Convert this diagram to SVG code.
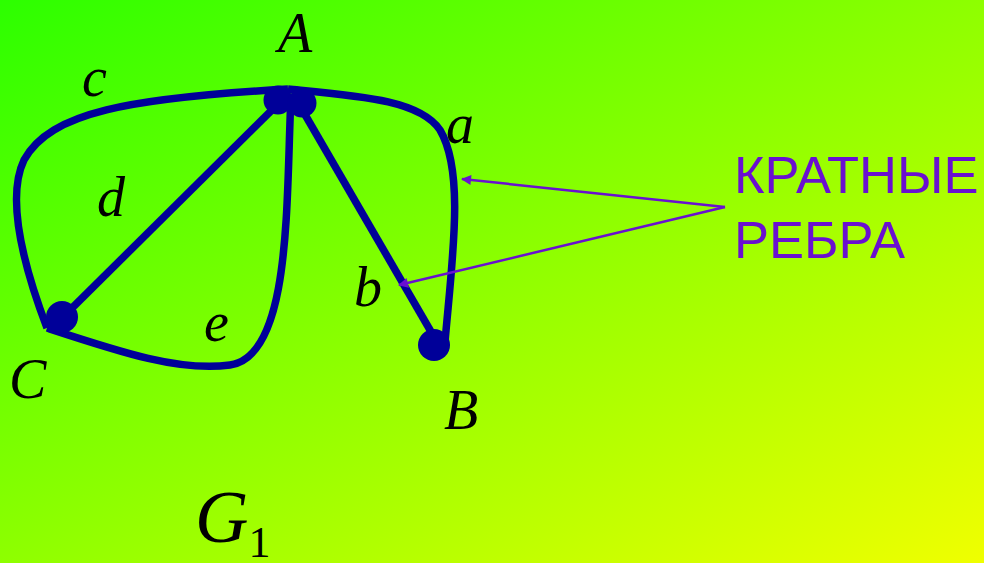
<svg xmlns="http://www.w3.org/2000/svg" width="984" height="563" viewBox="0 0 984 563">
<defs>
<linearGradient id="bg" x1="0" y1="0" x2="1" y2="1">
<stop offset="0" stop-color="#2cff00"/>
<stop offset="1" stop-color="#f0ff00"/>
</linearGradient>
<marker id="ah" viewBox="0 0 10 10" refX="9" refY="5" markerWidth="6" markerHeight="4" orient="auto" markerUnits="strokeWidth">
<path d="M0,0 L10,5 L0,10 z" fill="#6a10d0"/>
</marker>
<style>
.e{fill:none;stroke:#000099;stroke-width:7.5;stroke-linecap:butt}
.n{fill:#000099}
.l{font-family:"Liberation Serif",serif;font-style:italic;font-size:56px;fill:#000}
.t{font-family:"Liberation Sans",Arial,sans-serif;font-size:52.5px;fill:#6a10d0}
.p{fill:none;stroke:#6a10d0;stroke-width:2.5}
</style>
</defs>
<rect width="984" height="563" fill="url(#bg)"/>
<g id="edges">
<path class="e" d="M288,89 C130,98 50,112 24,160 C5,200 25,270 47,328"/>
<path class="e" d="M47,328 C120,352 180,372 230,365 C292,356 286,200 291,96"/>
<path class="e" d="M64,316 L281,101"/>
<path class="e" d="M288,89 C360,96 420,100 440,130 C465,172 452,260 445,342"/>
<path class="e" d="M300,106 L437,342"/>
<path class="p" d="M725,207 L462,179" marker-end="url(#ah)"/>
<path class="p" d="M725,207 L399,285" marker-end="url(#ah)"/>
</g>
<g id="A"><circle class="n" cx="278" cy="100" r="14.5"/><circle class="n" cx="302" cy="103" r="14.5"/><text class="l" x="278" y="52">A</text></g>
<g id="C"><circle class="n" cx="62" cy="317" r="16"/><text class="l" x="9" y="398">C</text></g>
<g id="B"><circle class="n" cx="434" cy="345" r="16"/><text class="l" x="444" y="429">B</text></g>
<g id="labels">
<text class="l" x="82" y="96">c</text>
<text class="l" x="446" y="143">a</text>
<text class="l" x="97" y="216">d</text>
<text class="l" x="354" y="306">b</text>
<text class="l" x="204" y="341">e</text>
<text class="l" x="195" y="542" style="font-size:74px">G<tspan style="font-style:normal;font-size:44px" dy="15">1</tspan></text>
</g>
<g id="note">
<text class="t" x="734" y="193">КРАТНЫЕ</text>
<text class="t" x="734" y="258">РЕБРА</text>
</g>
</svg>
